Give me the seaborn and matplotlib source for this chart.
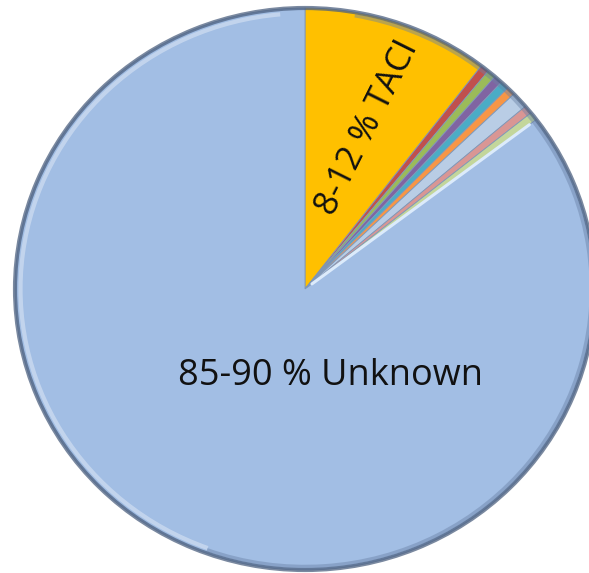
import matplotlib
matplotlib.use("Agg")
import matplotlib.pyplot as plt
import seaborn as sns
import numpy as np
from matplotlib.patches import Arc

# Share of cases by genetic cause (clockwise from 12 o'clock)
categories = ["TACI", "Gene A", "Gene B", "Gene C", "Gene D", "Gene E",
              "Gene F", "Gene G", "Gene H", "Unknown"]
shares = [10.4, 0.48, 0.48, 0.48, 0.48, 0.48, 0.94, 0.48, 0.48, 85.3]
slice_colors = ["#FFC000", "#C0504D", "#9BBB59", "#8064A2", "#4BACC6",
                "#F79646", "#B9CDE5", "#D99694", "#C3D69B", "#A2BEE4"]
label_taci = "8-12 % TACI"
label_unknown = "85-90 % Unknown"

sns.set_theme(style="white")
plt.rcParams["font.family"] = ["Open Sans", "DejaVu Sans"]

fig = plt.figure(figsize=(5.89, 5.73), dpi=100)
ax = fig.add_axes([0, 0, 1, 1])
ax.set_axis_off()

wedges, _ = ax.pie(shares, colors=slice_colors, startangle=90,
                   counterclock=False, radius=1.0,
                   wedgeprops=dict(linewidth=0.6, edgecolor="#7f97b8"))

# Bevel: dark outer rim and a soft inner highlight
ax.add_patch(Arc((0, 0), 2.0, 2.0, theta1=0, theta2=360,
                 color="#4d6180", lw=3.0, alpha=0.75))
ax.add_patch(Arc((0, 0), 1.962, 1.962, theta1=95, theta2=250,
                 color="white", lw=3.0, alpha=0.35))
ax.add_patch(Arc((0, 0), 1.975, 1.975, theta1=250, theta2=440,
                 color="#6a82a6", lw=2.5, alpha=0.45))

# Highlight along the leading edge of the large slice
edge_deg = 90 - 360 * sum(shares[:-1]) / 100.0
t = np.deg2rad(edge_deg)
ax.plot([0.03 * np.cos(t), 0.97 * np.cos(t)],
        [0.03 * np.sin(t), 0.97 * np.sin(t)],
        color="#dcebfb", lw=2.2, solid_capstyle="round")

ax.text(0.215, 0.575, label_taci, rotation=63.5, fontsize=25,
        ha="center", va="center", color="#111111")
ax.text(0.088, -0.31, label_unknown, fontsize=26,
        ha="center", va="center", color="#111111")

ax.set_xlim(-305 / 290, 284 / 290)
ax.set_ylim((289 - 573) / 281, 289 / 281)
ax.set_aspect("auto")

fig.savefig("out.png", dpi=100, facecolor="white")
